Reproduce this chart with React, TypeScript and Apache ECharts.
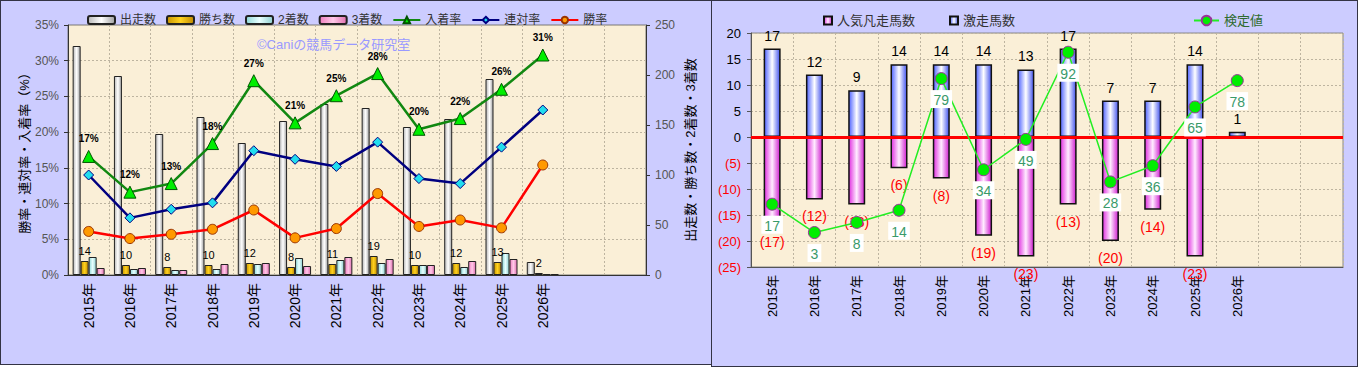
import React, { useEffect, useRef } from "react";
import * as echarts from "echarts";

const FONT = "'Liberation Sans', 'Noto Sans CJK JP', sans-serif";

// ---- left chart data ----
const years = ["2015年", "2016年", "2017年", "2018年", "2019年", "2020年", "2021年", "2022年", "2023年", "2024年", "2025年", "2026年", "", ""];
const runners = [229, 199, 141, 158, 132, 154, 171, 167, 148, 156, 196, 13];
const wins = [14, 10, 8, 10, 12, 8, 11, 19, 10, 12, 13, 2];
const seconds = [18, 6, 5, 6, 11, 17, 15, 12, 10, 8, 22, 1];
const thirds = [7, 7, 5, 11, 12, 9, 18, 16, 10, 14, 16, 1];
const placeRate = [16.6, 11.6, 12.8, 18.4, 27.2, 21.3, 25.1, 28.2, 20.4, 21.9, 26.0, 30.8];
const quinellaRate = [14.0, 8.0, 9.2, 10.1, 17.4, 16.2, 15.2, 18.6, 13.5, 12.8, 17.9, 23.1];
const winRate = [6.1, 5.1, 5.7, 6.4, 9.1, 5.2, 6.5, 11.4, 6.8, 7.7, 6.6, 15.4];
const pctTicks = { min: 0, max: 35, interval: 5 };
const cntTicks = { min: 0, max: 250, interval: 50 };

// ---- right chart data ----
const gekiso = [17, 12, 9, 14, 14, 14, 13, 17, 7, 7, 14, 1];
const ninkiBonso = [-17, -12, -13, -6, -8, -19, -23, -13, -20, -14, -23, null];
const kentei = [17, 3, 8, 14, 79, 34, 49, 92, 28, 36, 65, 78];
const rightTicks = { min: -25, max: 20, interval: 5 };

const hGrad = (a: string, b: string, c: string) =>
  new echarts.graphic.LinearGradient(0, 0, 1, 0, [
    { offset: 0, color: a },
    { offset: 0.5, color: b },
    { offset: 1, color: c },
  ]);

const gridLine = { show: true, lineStyle: { color: "#bdb4a0", type: [2, 2] as any, width: 1 } };

function leftOption(): any {
  const barBase = { type: "bar", yAxisIndex: 1, barWidth: 8, barGap: "0%" };
  return {
    animation: false,
    textStyle: { fontFamily: FONT },
    legend: {
      left: 81,
      top: 8,
      itemWidth: 27,
      itemHeight: 8,
      itemGap: 10,
      textStyle: { fontSize: 12, color: "#333", fontFamily: FONT },
      data: ["出走数", "勝ち数", "2着数", "3着数", "入着率", "連対率", "勝率"],
    },
    grid: {
      left: 67,
      right: 65,
      top: 24,
      bottom: 89,
      show: true,
      backgroundColor: "#faefd7",
      borderColor: "#777",
      borderWidth: 1,
      outerBoundsMode: "none",
    },
    graphic: [
      {
        type: "text",
        left: 256,
        top: 37,
        style: { text: "©Caniの競馬データ研究室", fill: "#9999ff", font: `13px ${FONT}` },
        z: 1,
      },
    ],
    xAxis: {
      type: "category",
      data: years,
      axisLine: { lineStyle: { color: "#333" } },
      axisTick: { show: false },
      axisLabel: { rotate: 90, interval: 0, fontSize: 14, color: "#000", margin: 8 },
      splitLine: { ...gridLine, interval: 0 },
    },
    yAxis: [
      {
        type: "value",
        ...pctTicks,
        name: "勝率・連対率・入着率（%）",
        nameLocation: "middle",
        nameRotate: 90,
        nameGap: 37,
        nameMoveOverlap: false,
        nameTextStyle: { fontSize: 13, color: "#000" },
        axisLine: { show: true, lineStyle: { color: "#333" } },
        axisTick: { show: true, length: 4 },
        axisLabel: { formatter: "{value}%", fontSize: 12, color: "#555", margin: 9 },
        splitLine: gridLine,
      },
      {
        type: "value",
        ...cntTicks,
        position: "right",
        name: "出走数・勝ち数・2着数・3着数",
        nameLocation: "middle",
        nameRotate: 90,
        nameGap: 38,
        nameMoveOverlap: false,
        nameTextStyle: { fontSize: 13, color: "#000" },
        axisLine: { show: true, lineStyle: { color: "#333" } },
        axisTick: { show: true, length: 4 },
        axisLabel: { fontSize: 12, color: "#555", margin: 9 },
        splitLine: { show: false },
      },
    ],
    series: [
      {
        ...barBase,
        name: "出走数",
        data: runners,
        itemStyle: { color: hGrad("#b8b8b8", "#ffffff", "#a0a0a0"), borderColor: "#222", borderWidth: 1 },
      },
      {
        ...barBase,
        name: "勝ち数",
        data: wins,
        itemStyle: { color: hGrad("#c79500", "#ffd21f", "#c08a00"), borderColor: "#222", borderWidth: 1 },
        label: { show: true, position: "top", distance: 5, fontSize: 11, color: "#000" },
      },
      {
        ...barBase,
        name: "2着数",
        data: seconds,
        itemStyle: { color: hGrad("#8fd8d8", "#e8ffff", "#8fd0d0"), borderColor: "#222", borderWidth: 1 },
      },
      {
        ...barBase,
        name: "3着数",
        data: thirds,
        itemStyle: { color: hGrad("#ee7fbf", "#ffc8e8", "#e070b0"), borderColor: "#222", borderWidth: 1 },
      },
      {
        type: "line",
        name: "入着率",
        data: placeRate,
        symbol: "triangle",
        symbolSize: 12,
        lineStyle: { color: "#118811", width: 2.5 },
        itemStyle: { color: "#00ee00", borderColor: "#005500", borderWidth: 1 },
        label: {
          show: true,
          position: "top",
          distance: 6,
          fontSize: 10,
          fontWeight: "bold",
          color: "#000",
          formatter: (p: any) => Math.round(p.value) + "%",
        },
        z: 5,
      },
      {
        type: "line",
        name: "連対率",
        data: quinellaRate,
        symbol: "diamond",
        symbolSize: 10,
        lineStyle: { color: "#000080", width: 2.5 },
        itemStyle: { color: "#22ddee", borderColor: "#000080", borderWidth: 1 },
        z: 5,
      },
      {
        type: "line",
        name: "勝率",
        data: winRate,
        symbol: "circle",
        symbolSize: 10,
        lineStyle: { color: "#ff0000", width: 2.5 },
        itemStyle: { color: "#ff9900", borderColor: "#993300", borderWidth: 1 },
        z: 5,
      },
    ],
  };
}

function rightOption(): any {
  return {
    animation: false,
    textStyle: { fontFamily: FONT },
    legend: [
      {
        left: 106,
        top: 8,
        icon: "rect",
        itemWidth: 8,
        itemHeight: 8,
        itemGap: 34,
        textStyle: { fontSize: 13, color: "#333", fontFamily: FONT },
        data: ["人気凡走馬数", "激走馬数"],
      },
      {
        left: 476,
        top: 8,
        itemWidth: 25,
        itemHeight: 12,
        textStyle: { fontSize: 13, color: "#2f6b2f", fontFamily: FONT },
        data: ["検定値"],
      },
    ],
    grid: {
      left: 39,
      right: 14,
      top: 32,
      bottom: 99,
      show: true,
      backgroundColor: "#faefd7",
      borderColor: "#888",
      borderWidth: 1,
      outerBoundsMode: "none",
    },
    xAxis: {
      type: "category",
      data: years,
      axisLine: { onZero: false, lineStyle: { color: "#555" } },
      axisTick: { show: false },
      axisLabel: { rotate: 90, interval: 0, fontSize: 13, color: "#000", margin: 8 },
      splitLine: { ...gridLine, interval: 0 },
    },
    yAxis: [
      {
        type: "value",
        ...rightTicks,
        axisLine: { show: true, lineStyle: { color: "#555" } },
        axisTick: { show: true, length: 4 },
        axisLabel: {
          fontSize: 13,
          margin: 10,
          formatter: (v: number) => (v < 0 ? `(${-v})` : `${v}`),
          color: (v: any) => (Number(v) < 0 ? "#ff0000" : "#000"),
        },
        splitLine: gridLine,
      },
      { type: "value", min: -14, max: 101.5, show: false, splitLine: { show: false } },
    ],
    series: [
      {
        type: "bar",
        name: "人気凡走馬数",
        data: ninkiBonso,
        barWidth: 17,
        barGap: "-100%",
        itemStyle: { color: hGrad("#e030e0", "#ffecff", "#d020d0"), borderColor: "#111", borderWidth: 1.5 },
        label: {
          show: true,
          position: "bottom",
          distance: 10,
          fontSize: 14,
          color: "#ff0000",
          formatter: (p: any) => `(${-p.value})`,
        },
      },
      {
        type: "bar",
        name: "激走馬数",
        data: gekiso,
        barWidth: 17,
        barGap: "-100%",
        itemStyle: { color: hGrad("#4f63ff", "#ffffff", "#4455ee"), borderColor: "#111", borderWidth: 1.5 },
        label: { show: true, position: "top", distance: 6, fontSize: 14, color: "#000" },
        markLine: {
          silent: true,
          symbol: "none",
          label: { show: false },
          lineStyle: { color: "#ff0000", width: 3, type: "solid" },
          data: [{ yAxis: 0 }],
        },
      },
      {
        type: "line",
        name: "検定値",
        yAxisIndex: 1,
        data: kentei,
        symbol: "circle",
        symbolSize: 12,
        lineStyle: { color: "#22ee22", width: 1.5 },
        itemStyle: { color: "#00ee00", borderColor: "#993399", borderWidth: 1 },
        label: {
          show: true,
          position: "bottom",
          distance: 5,
          fontSize: 14,
          color: "#3a9a6a",
          backgroundColor: "#ffffff",
          padding: [3, 3, 1, 3],
        },
        z: 6,
      },
    ],
  };
}

export default function App() {
  const leftRef = useRef<HTMLDivElement>(null);
  const rightRef = useRef<HTMLDivElement>(null);
  useEffect(() => {
    document.body.style.margin = "0";
    const l = echarts.init(leftRef.current!, null, { renderer: "svg" });
    const r = echarts.init(rightRef.current!, null, { renderer: "svg" });
    l.setOption(leftOption());
    r.setOption(rightOption());
    return () => {
      l.dispose();
      r.dispose();
    };
  }, []);
  return (
    <div style={{ position: "relative", width: 1358, height: 367, background: "#ffffff" }}>
      <div
        style={{
          position: "absolute",
          left: 0,
          top: 0,
          width: 712,
          height: 365,
          boxSizing: "border-box",
          border: "1px solid #333344",
          background: "#ccccff",
        }}
      >
        <div ref={leftRef} style={{ width: 710, height: 363 }} />
      </div>
      <div
        style={{
          position: "absolute",
          left: 711,
          top: 0,
          width: 647,
          height: 367,
          boxSizing: "border-box",
          border: "1px solid #333344",
          background: "#ccccff",
        }}
      >
        <div ref={rightRef} style={{ width: 645, height: 365 }} />
      </div>
    </div>
  );
}
